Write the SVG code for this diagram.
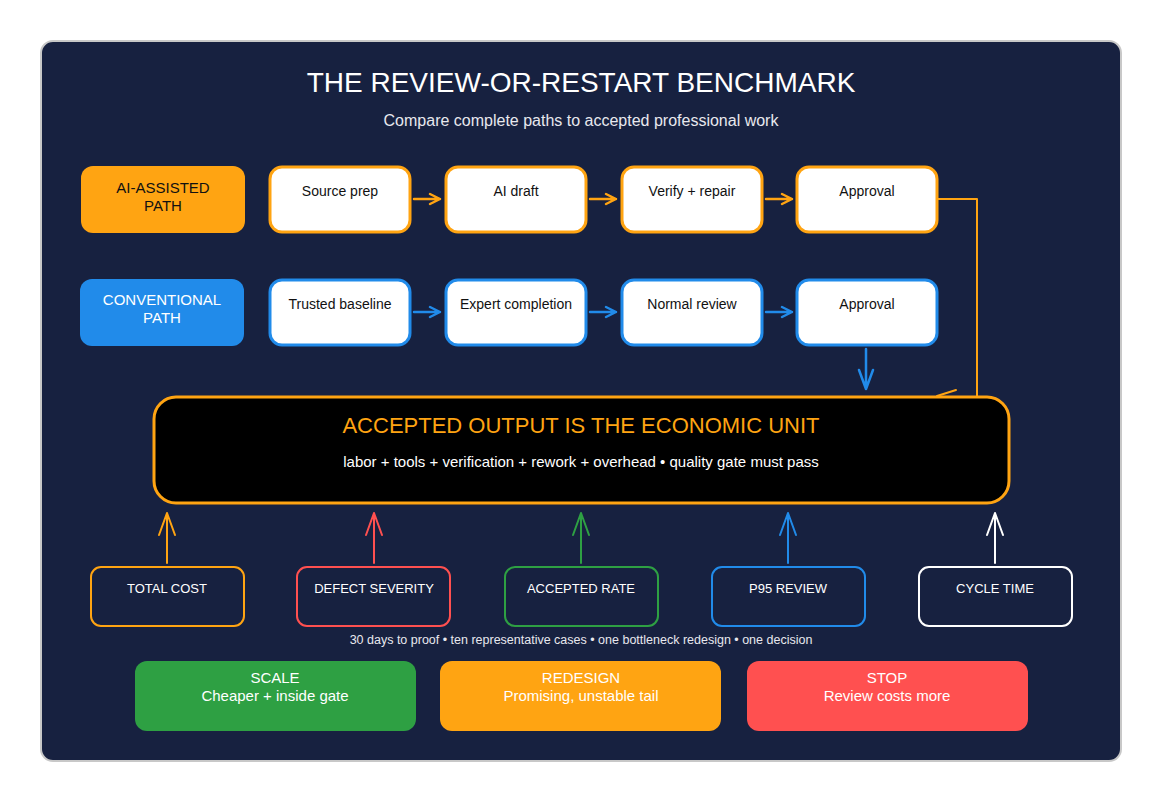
<svg xmlns="http://www.w3.org/2000/svg" width="1162" height="802" viewBox="0 0 1162 802">
<style>
text{font-family:"Liberation Sans",Arial,sans-serif}
.step{fill:#fff;stroke-width:3}
.st{font-size:14px;fill:#111;text-anchor:middle}
.m{fill:none;stroke-width:2;rx:10}
.mt{font-size:13px;fill:#fff;text-anchor:middle}
.ln{fill:none;stroke-width:2.5}
</style>
<rect x="0" y="0" width="1162" height="802" fill="#fff"/>
<rect x="41" y="41" width="1080" height="720" rx="12" fill="#172140" stroke="#c8c8c8" stroke-width="2"/>
<text x="581" y="92" font-size="28" fill="#fff" text-anchor="middle">THE REVIEW-OR-RESTART BENCHMARK</text>
<text x="581" y="126" font-size="16" fill="#e8e8ee" text-anchor="middle">Compare complete paths to accepted professional work</text>

<g id="ai-label"><rect x="81" y="166" width="164" height="67" rx="12" fill="#ffa412"/><text x="163" y="193" font-size="15" fill="#111" text-anchor="middle">AI-ASSISTED</text><text x="163" y="211" font-size="15" fill="#111" text-anchor="middle">PATH</text></g>
<g id="conv-label"><rect x="80" y="279" width="164" height="67" rx="12" fill="#218bea"/><text x="162" y="305" font-size="15" fill="#fff" text-anchor="middle">CONVENTIONAL</text><text x="162" y="323" font-size="15" fill="#fff" text-anchor="middle">PATH</text></g>

<g id="a1"><rect class="step" x="270" y="167" width="140" height="65" rx="12" stroke="#ffa412"/><text class="st" x="340" y="196">Source prep</text></g>
<g id="a2"><rect class="step" x="446" y="167" width="140" height="65" rx="12" stroke="#ffa412"/><text class="st" x="516" y="196">AI draft</text></g>
<g id="a3"><rect class="step" x="622" y="167" width="140" height="65" rx="12" stroke="#ffa412"/><text class="st" x="692" y="196">Verify + repair</text></g>
<g id="a4"><rect class="step" x="797" y="167" width="140" height="65" rx="12" stroke="#ffa412"/><text class="st" x="867" y="196">Approval</text></g>
<g id="c1"><rect class="step" x="270" y="280" width="140" height="65" rx="12" stroke="#218bea"/><text class="st" x="340" y="309">Trusted baseline</text></g>
<g id="c2"><rect class="step" x="446" y="280" width="140" height="65" rx="12" stroke="#218bea"/><text class="st" x="516" y="309">Expert completion</text></g>
<g id="c3"><rect class="step" x="622" y="280" width="140" height="65" rx="12" stroke="#218bea"/><text class="st" x="692" y="309">Normal review</text></g>
<g id="c4"><rect class="step" x="797" y="280" width="140" height="65" rx="12" stroke="#218bea"/><text class="st" x="867" y="309">Approval</text></g>

<g id="connectors" stroke-linecap="round" stroke-linejoin="round">
<g stroke="#ffa412" class="ln" fill="none" stroke-width="2.5">
<path d="M414 199H440M430 194L440 199L430 204"/>
<path d="M590 199H616M606 194L616 199L606 204"/>
<path d="M766 199H792M782 194L792 199L782 204"/>
<path d="M937 199H977V397" stroke-width="2" stroke-linecap="butt"/>
<path d="M956 390L937 396" stroke-width="2"/>
</g>
<g stroke="#218bea" fill="none" stroke-width="2.5">
<path d="M414 312H440M430 307L440 312L430 317"/>
<path d="M590 312H616M606 307L616 312L606 317"/>
<path d="M766 312H792M782 307L792 312L782 317"/>
<path d="M866 349V389M859 370L866 389L873 370"/>
</g>
<g fill="none" stroke-width="2">
<path d="M167 563V513M159 535L167 513L175 535" stroke="#ffa412"/>
<path d="M374 563V513M366 535L374 513L382 535" stroke="#ff5050"/>
<path d="M581 563V513M573 535L581 513L589 535" stroke="#2ea043"/>
<path d="M788 563V513M780 535L788 513L796 535" stroke="#218bea"/>
<path d="M995 563V513M987 535L995 513L1003 535" stroke="#fff"/>
</g>
</g>

<g id="unit"><rect x="154" y="397" width="855" height="106" rx="22" fill="#000" stroke="#ffa412" stroke-width="3"/>
<text x="581" y="433" font-size="22" fill="#ffa412" text-anchor="middle">ACCEPTED OUTPUT IS THE ECONOMIC UNIT</text>
<text x="581" y="467" font-size="15" fill="#fff" text-anchor="middle">labor + tools + verification + rework + overhead  •  quality gate must pass</text></g>

<g id="m1"><rect class="m" x="91" y="567" width="153" height="59" rx="10" stroke="#ffa412"/><text class="mt" x="167" y="593">TOTAL COST</text></g>
<g id="m2"><rect class="m" x="297" y="567" width="153" height="59" rx="10" stroke="#ff5050"/><text class="mt" x="374" y="593">DEFECT SEVERITY</text></g>
<g id="m3"><rect class="m" x="505" y="567" width="153" height="59" rx="10" stroke="#2ea043"/><text class="mt" x="581" y="593">ACCEPTED RATE</text></g>
<g id="m4"><rect class="m" x="712" y="567" width="153" height="59" rx="10" stroke="#218bea"/><text class="mt" x="788" y="593">P95 REVIEW</text></g>
<g id="m5"><rect class="m" x="919" y="567" width="153" height="59" rx="10" stroke="#fff"/><text class="mt" x="995" y="593">CYCLE TIME</text></g>

<text x="581" y="644" font-size="12.5" fill="#e8e8ee" text-anchor="middle">30 days to proof  •  ten representative cases  •  one bottleneck redesign  •  one decision</text>

<g id="scale"><rect x="135" y="661" width="281" height="70" rx="12" fill="#2ea043"/><text x="275" y="683" font-size="15" fill="#fff" text-anchor="middle">SCALE</text><text x="275" y="701" font-size="15" fill="#fff" text-anchor="middle">Cheaper + inside gate</text></g>
<g id="redesign"><rect x="440" y="661" width="281" height="70" rx="12" fill="#ffa412"/><text x="581" y="683" font-size="15" fill="#fff" text-anchor="middle">REDESIGN</text><text x="581" y="701" font-size="15" fill="#fff" text-anchor="middle">Promising, unstable tail</text></g>
<g id="stop"><rect x="747" y="661" width="281" height="70" rx="12" fill="#ff5050"/><text x="887" y="683" font-size="15" fill="#fff" text-anchor="middle">STOP</text><text x="887" y="701" font-size="15" fill="#fff" text-anchor="middle">Review costs more</text></g>
</svg>
